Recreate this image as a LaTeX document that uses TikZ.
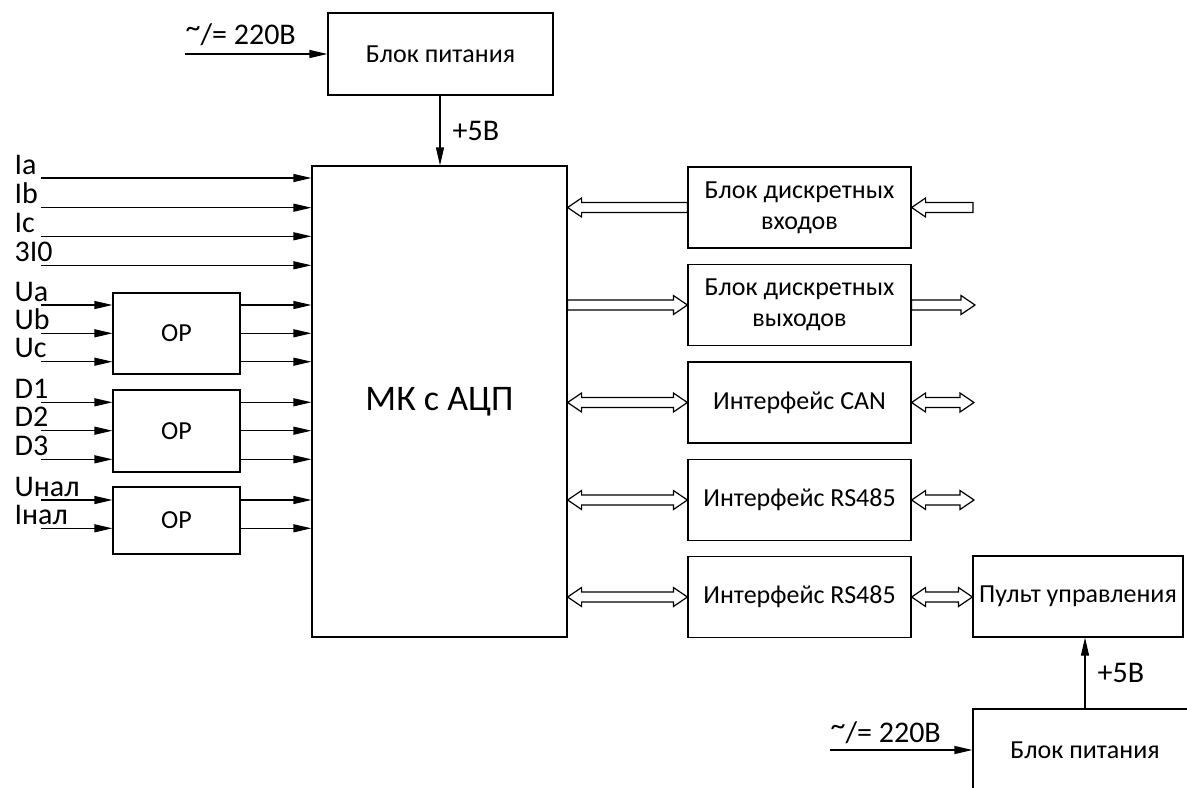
\documentclass[tikz,border=0pt]{standalone}
\usepackage{fontspec}
\setmainfont{Carlito}
\usetikzlibrary{arrows.meta,calc}

\tikzset{
  blk/.style={draw, inner sep=0pt, align=center, font=\fontsize{13}{15.5}\selectfont},
  wire/.style={-{Triangle[length=9pt,width=4pt]}},
  lbl/.style={inner sep=0pt, font=\fontsize{15}{17}\selectfont},
  % hollow arrows for the buses
  fat/.style={to path={let \p1=(\tikztostart), \p2=(\tikztotarget), \p3=($(\p2)!7pt!(\p1)$) in
    (\x1,{\y1+2.5pt}) -- (\x3,{\y1+2.5pt}) -- (\x3,{\y1+4.75pt}) -- (\p2) -- (\x3,{\y1-4.75pt})
    -- (\x3,{\y1-2.5pt}) -- (\x1,{\y1-2.5pt}) -- cycle}},
  fatb/.style={to path={let \p1=(\tikztostart), \p2=(\tikztotarget), \p3=($(\p2)!7pt!(\p1)$),
    \p4=($(\p1)!7pt!(\p2)$) in
    (\p1) -- (\x4,{\y1+4.75pt}) -- (\x4,{\y1+2.5pt}) -- (\x3,{\y1+2.5pt}) -- (\x3,{\y1+4.75pt}) -- (\p2)
    -- (\x3,{\y1-4.75pt}) -- (\x3,{\y1-2.5pt}) -- (\x4,{\y1-2.5pt}) -- (\x4,{\y1-4.75pt}) -- cycle}},
}
\newcommand{\acdc}{\raisebox{.45ex}{\textasciitilde}/= 220В}

\begin{document}
\begin{tikzpicture}[x=0.5pt,y=-0.5pt,line width=0.6pt]
  \clip (0,0) rectangle (1187,787);
  % power supply and controller
  \node[blk,minimum width=112.5pt,minimum height=41pt] (pwr) at (440.5,54) {Блок питания};
  \node[blk,minimum width=127.5pt,minimum height=235.5pt,font=\fontsize{18}{20}\selectfont] (mk) at (439.5,401.5) {МК с АЦП};
  \coordinate (ac) at (185,54);
  \draw[wire] (ac) -- (pwr.west);
  \node[lbl,anchor=base west] at (185,44) {\acdc};
  \draw[wire] (pwr.south -| 440,0) -- (mk.north -| 440,0) node[lbl,midway,right,xshift=6pt] {+5В};

  % direct inputs
  \foreach \t/\y [count=\i] in {Ia/178,Ib/207.7,Ic/236.3,3I0/265.3} {
    \coordinate (in\i) at (41,\y);
    \draw[wire] (in\i) -- (in\i -| mk.west);
    \node[lbl,anchor=base west] at (14,\y-4) {\t};
  }

  % inputs through OP
  \node[blk,minimum width=63.5pt,minimum height=40.5pt] (op1) at (176.5,333.5) {OP};
  \node[blk,minimum width=63.5pt,minimum height=41pt] (op2) at (176.5,431) {OP};
  \node[blk,minimum width=63.5pt,minimum height=33.5pt] (op3) at (176.5,520.5) {OP};
  \foreach \t/\y/\o [count=\i] in {Ua/305/op1,Ub/333.3/op1,Uc/361.7/op1,D1/402.3/op2,D2/430.7/op2,
      D3/459.3/op2,Uнал/500/op3,Iнал/528.3/op3} {
    \coordinate (u\i) at (41,\y);
    \draw[wire] (u\i) -- (u\i -| \o.west);
    \draw[wire] (u\i -| \o.east) -- (u\i -| mk.west);
    \node[lbl,anchor=base west] at (14,\y-4) {\t};
  }

  % right side blocks
  \foreach \n/\t/\y in {din/{Блок дискретных\\входов}/207.5,dout/{Блок дискретных\\выходов}/305,
      can/{Интерфейс CAN}/402.5,rs1/{Интерфейс RS485}/500,rs2/{Интерфейс RS485}/597}
    \node[blk,minimum width=111.5pt,minimum height=40.5pt] (\n) at (799.5,\y) {\t};
  \coordinate (dinx) at (973,207.5);
  \coordinate (doutx) at (975,305);
  \coordinate (canx) at (974,402.5);
  \coordinate (rs1x) at (974,500);
  \draw (dinx) to[fat] (din.east);
  \draw (din.west) to[fat] (mk.east |- din.west);
  \draw (mk.east |- dout.west) to[fat] (dout.west);
  \draw (dout.east) to[fat] (doutx);
  \draw (mk.east |- can.west) to[fatb] (can.west);
  \draw (can.east) to[fatb] (canx);
  \draw (mk.east |- rs1.west) to[fatb] (rs1.west);
  \draw (rs1.east) to[fatb] (rs1x);
  \draw (mk.east |- rs2.west) to[fatb] (rs2.west);

  % control panel
  \node[blk,minimum width=105pt,minimum height=40.5pt] (pult) at (1078,596.5) {Пульт управления};
  \draw (rs2.east) to[fatb] (pult.west |- rs2.east);
  \node[blk,minimum width=112pt,minimum height=41pt] (pwr2) at (1085,750) {Блок питания};
  \draw[wire] (pwr2.north) -- (pwr2.north |- pult.south) node[lbl,midway,right,xshift=6pt] {+5В};
  \coordinate (ac2) at (830,750);
  \draw[wire] (ac2) -- (pwr2.west);
  \node[lbl,anchor=base west] at (830,742) {\acdc};
\end{tikzpicture}
\end{document}
